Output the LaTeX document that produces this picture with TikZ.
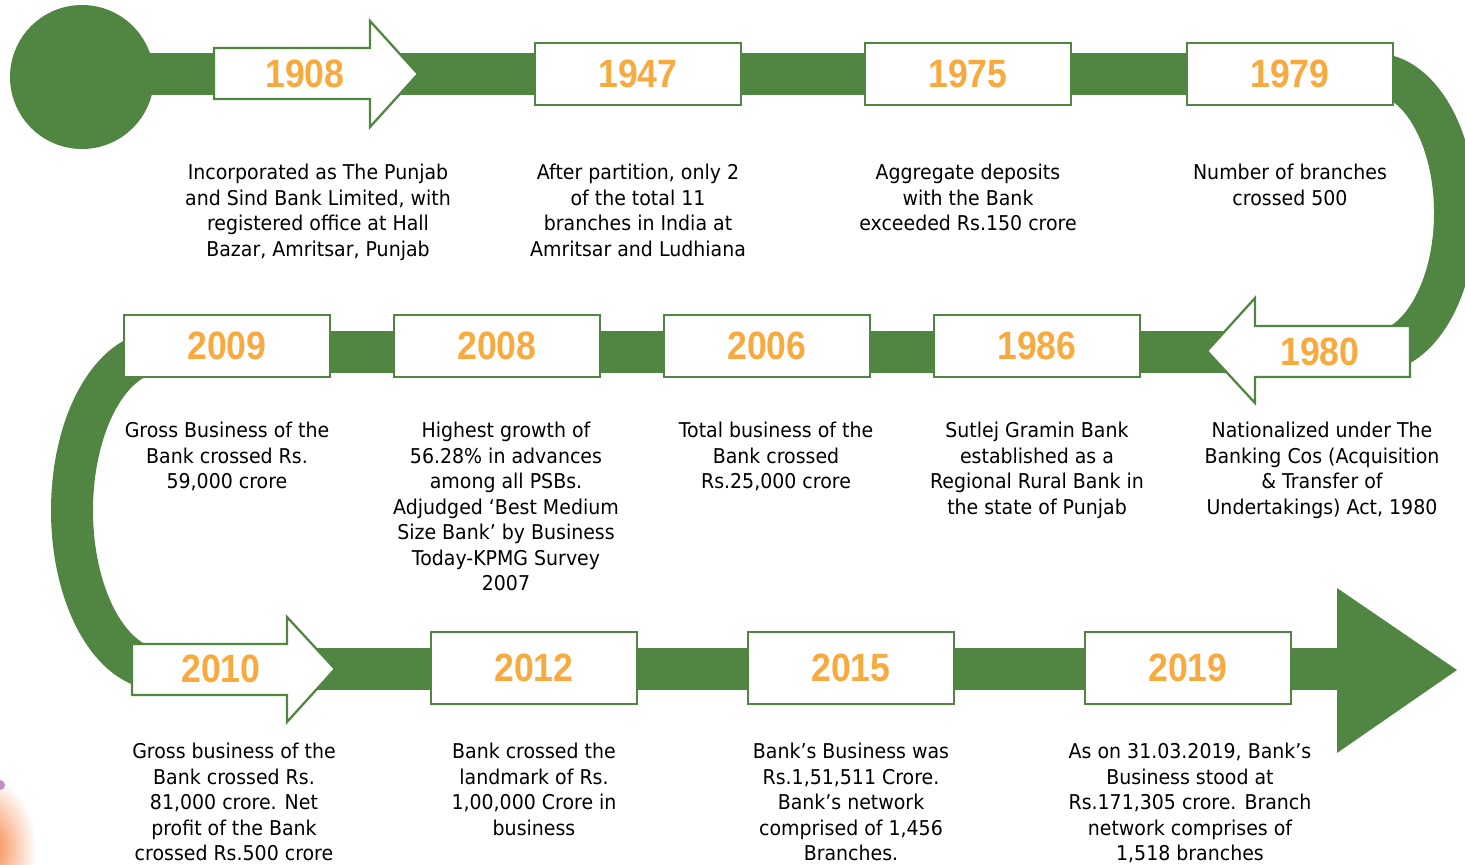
\documentclass[tikz,border=0pt]{standalone}
\usepackage{fontspec}
\newfontfamily\bodyfont[FakeStretch=0.93]{DejaVu Sans}
\newfontfamily\yearfont[FakeStretch=0.9]{Liberation Sans}
\usetikzlibrary{backgrounds}
\definecolor{bankgreen}{HTML}{508642}
\definecolor{bankorange}{HTML}{F8AA3E}
\definecolor{logoorange}{HTML}{F5803F}
\tikzset{
  band/.style={draw=bankgreen, line width=0.84cm},
  yearbox/.style={draw=bankgreen, line width=1.3pt, fill=white,
    minimum width=4.12cm, minimum height=1.24cm},
  tallbox/.style={yearbox, minimum height=1.44cm},
  arrowbox/.style={draw=bankgreen, line width=1.3pt, fill=white},
  year/.style={font=\yearfont\bfseries\fontsize{22.5}{24}\selectfont, text=bankorange},
  event/.style={font=\bodyfont\fontsize{11.6}{14.5}\selectfont,
    align=center, anchor=north, inner sep=0pt},
}
\begin{document}
\begin{tikzpicture}[x=0.02cm, y=-0.02cm]
\useasboundingbox (0,0) rectangle (1465,865);
% Logo fragment at the corner
\shade[inner color=logoorange, outer color=white] (-12,848) ellipse (48 and 70);
\fill[violet!45] (0,785) circle (5);
% Row 1
\node[circle, fill=bankgreen, minimum size=2.88cm, inner sep=0pt] (start) at (82,77) {};
\draw[arrowbox] (214,48) -- (370,48) -- (370,21) -- (418,74)
    -- (370,127) -- (370,99) -- (214,99) -- cycle;
\node[year] (y1908) at (305,74) {1908};
\node[yearbox, year] (y1947) at (638,74) {1947};
\node[yearbox, year] (y1975) at (968,74) {1975};
\node[yearbox, year] (y1979) at (1290,74) {1979};
% Row 2
\draw[arrowbox] (1410,326) -- (1255,326) -- (1255,298) -- (1207,351)
    -- (1255,403) -- (1255,377) -- (1410,377) -- cycle;
\node[year] (y1980) at (1320,352) {1980};
\node[yearbox, year] (y1986) at (1037,346) {1986};
\node[yearbox, year] (y2006) at (767,346) {2006};
\node[yearbox, year] (y2008) at (497,346) {2008};
\node[yearbox, year] (y2009) at (227,346) {2009};
% Row 3
\draw[arrowbox] (132,644) -- (287,644) -- (287,617) -- (335,669)
    -- (287,722) -- (287,695) -- (132,695) -- cycle;
\node[year] (y2010) at (221,669) {2010};
\node[tallbox, year] (y2012) at (534,668) {2012};
\node[tallbox, year] (y2015) at (851,668) {2015};
\node[tallbox, year] (y2019) at (1188,668) {2019};
\coordinate (headbase) at (1337,669);
\coordinate (tip) at (1457,670);
% The green track
\begin{scope}[on background layer]
\draw[band] (start.center |- y1979) -- (y1979);
\draw[band] (y1979.center) -- ++(84,0)
    arc[start angle=-90, end angle=90, x radius=81, y radius=139]
    -- (y1980.center);
\draw[band] (y1980.center) -- (y1980.center -| y2009.center) -- ++(-67,0)
    arc[start angle=-90, end angle=-270, x radius=88, y radius=158.5]
    -- (y2010.center);
\draw[band] (y2010.center) -- (headbase);
\end{scope}
\fill[bankgreen] (1337,588) -- (tip) -- (1337,753) -- cycle;
% Events
\node[event] (d1908) at (318,164) {Incorporated as The Punjab\\and Sind Bank Limited, with\\registered office at Hall\\Bazar, Amritsar, Punjab};
\node[event] (d1947) at (638,164) {After partition, only 2\\of the total 11\\branches in India at\\Amritsar and Ludhiana};
\node[event] (d1975) at (968,164) {Aggregate deposits\\with the Bank\\exceeded Rs.150 crore};
\node[event] (d1979) at (1290,164) {Number of branches\\crossed 500};
\node[event] (d2009) at (227,422) {Gross Business of the\\Bank crossed Rs.\\59,000 crore};
\node[event] (d2008) at (506,422) {Highest growth of\\56.28\% in advances\\among all PSBs.\\Adjudged ‘Best Medium\\Size Bank’ by Business\\Today-KPMG Survey\\2007};
\node[event] (d2006) at (776,422) {Total business of the\\Bank crossed\\Rs.25,000 crore};
\node[event] (d1986) at (1037,422) {Sutlej Gramin Bank\\established as a\\Regional Rural Bank in\\the state of Punjab};
\node[event] (d1980) at (1322,422) {Nationalized under The\\Banking Cos (Acquisition\\\& Transfer of\\Undertakings) Act, 1980};
\node[event] (d2010) at (234,743) {Gross business of the\\Bank crossed Rs.\\81,000 crore. Net\\profit of the Bank\\crossed Rs.500 crore};
\node[event] (d2012) at (534,743) {Bank crossed the\\landmark of Rs.\\1,00,000 Crore in\\business};
\node[event] (d2015) at (851,743) {Bank’s Business was\\Rs.1,51,511 Crore.\\Bank’s network\\comprised of 1,456\\Branches.};
\node[event] (d2019) at (1190,743) {As on 31.03.2019, Bank’s\\Business stood at\\Rs.171,305 crore. Branch\\network comprises of\\1,518 branches};
\end{tikzpicture}
\end{document}
